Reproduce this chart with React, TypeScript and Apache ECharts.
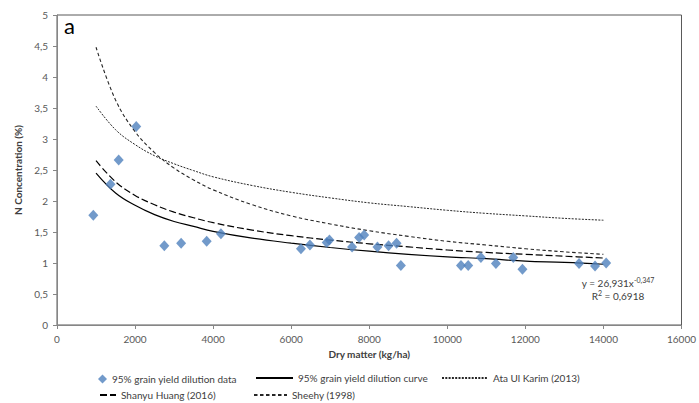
import React, { useEffect, useRef } from "react";
import * as echarts from "echarts";

const pointX = [930, 1370, 1580, 2030, 2750, 3180, 3835, 4200, 6250, 6480, 6910, 6980, 7560, 7740, 7870, 8210, 8495, 8700, 8810, 10350, 10535, 10860, 11245, 11690, 11925, 13375, 13785, 14070];
const pointY = [1.77, 2.27, 2.66, 3.2, 1.28, 1.32, 1.35, 1.47, 1.23, 1.29, 1.33, 1.37, 1.26, 1.41, 1.45, 1.26, 1.28, 1.32, 0.96, 0.96, 0.96, 1.09, 0.99, 1.09, 0.9, 0.99, 0.95, 1.0];

const curveX = [1000, 1500, 2000, 2500, 3000, 3500, 4000, 5000, 6000, 7000, 8000, 9000, 10000, 11000, 12000, 13000, 14000];
const fitCurve = [2.45, 2.13, 1.93, 1.78, 1.67, 1.59, 1.51, 1.4, 1.32, 1.25, 1.19, 1.14, 1.1, 1.07, 1.03, 1.01, 0.98];
const ataUlKarim = [3.53, 3.15, 2.91, 2.73, 2.6, 2.49, 2.39, 2.25, 2.14, 2.05, 1.97, 1.91, 1.85, 1.8, 1.76, 1.72, 1.69];
const shanyuHuang = [2.65, 2.31, 2.09, 1.94, 1.82, 1.73, 1.65, 1.53, 1.44, 1.37, 1.31, 1.26, 1.21, 1.17, 1.14, 1.11, 1.08];
const sheehy = [4.48, 3.63, 3.12, 2.78, 2.53, 2.34, 2.18, 1.94, 1.76, 1.63, 1.52, 1.43, 1.35, 1.29, 1.23, 1.18, 1.14];

const seriesNames = [
  "95% grain yield dilution data",
  "95% grain yield dilution curve",
  "Ata Ul Karim (2013)",
  "Shanyu Huang (2016)",
  "Sheehy (1998)",
];

const FONT = "Lato, 'Open Sans', sans-serif";

function pairs(xs: number[], ys: number[]) {
  return xs.map((x, i) => [x, ys[i]]);
}

export default function App() {
  const ref = useRef<HTMLDivElement>(null);
  useEffect(() => {
    document.body.style.margin = "0";
    const chart = echarts.init(ref.current!, null, { renderer: "svg" });
    const lineSeries = (name: string, ys: number[], type: any, width: number, color: string) => ({
      name,
      type: "line",
      data: pairs(curveX, ys),
      smooth: 0.4,
      symbol: "none",
      showSymbol: false,
      lineStyle: { color, width, type },
      itemStyle: { color },
      z: 2,
    });
    const legendBase = {
      selectedMode: false,
      itemHeight: 12,
      textStyle: { fontFamily: FONT, fontSize: 10, color: "#404040" },
      padding: 0,
    };
    const lineLegend = {
      ...legendBase,
      itemStyle: { opacity: 0 },
    };
    chart.setOption({
      animation: false,
      textStyle: { fontFamily: FONT },
      grid: { left: 57, right: 17, top: 15, bottom: 78, show: true, borderColor: "#595959", borderWidth: 1 },
      xAxis: {
        type: "value",
        min: 0,
        max: 16000,
        interval: 2000,
        name: "Dry matter (kg/ha)",
        nameLocation: "middle",
        nameGap: 21,
        nameTextStyle: { fontFamily: FONT, fontSize: 10, fontWeight: "bold", color: "#404040" },
        axisLine: { show: true, lineStyle: { color: "#868686" } },
        axisTick: { show: true, length: 4, lineStyle: { color: "#868686" } },
        axisLabel: {
          fontFamily: FONT,
          fontSize: 10,
          color: "#595959",
          margin: 9,
          formatter: (v: number) => String(v),
        },
        splitLine: { show: false },
      },
      yAxis: {
        type: "value",
        min: 0,
        max: 5,
        interval: 0.5,
        name: "N Concentration (%)",
        nameLocation: "middle",
        nameGap: 30,
        nameTextStyle: { fontFamily: FONT, fontSize: 10, fontWeight: "bold", color: "#404040" },
        axisLine: { show: true, lineStyle: { color: "#868686" } },
        axisTick: { show: true, length: 4, lineStyle: { color: "#868686" } },
        axisLabel: {
          fontFamily: FONT,
          fontSize: 10,
          color: "#595959",
          margin: 9,
          formatter: (v: number) => String(v).replace(".", ","),
        },
        splitLine: { show: false },
      },
      legend: [
        { ...legendBase, data: [seriesNames[0]], left: 98, top: 374, itemWidth: 9, itemHeight: 9 },
        { ...lineLegend, data: [seriesNames[1]], left: 255, top: 373, itemWidth: 37 },
        { ...lineLegend, data: [seriesNames[2]], left: 441, top: 373, itemWidth: 46 },
        { ...lineLegend, data: [seriesNames[3]], left: 99, top: 390, itemWidth: 16 },
        { ...lineLegend, data: [seriesNames[4]], left: 253, top: 390, itemWidth: 33 },
      ],
      graphic: [
        {
          type: "text",
          left: 64,
          top: 14,
          style: { text: "a", fontFamily: FONT, fontSize: 22, fill: "#000" },
        },
        {
          type: "text",
          x: 618,
          y: 283,
          style: {
            text: "{b|y = 26,931x}{s|-0,347}",
            align: "center",
            verticalAlign: "middle",
            rich: {
              b: { fontFamily: FONT, fontSize: 10, lineHeight: 13, fill: "#404040" },
              s: { fontFamily: FONT, fontSize: 7, lineHeight: 8, verticalAlign: "top", fill: "#404040" },
            },
          },
        },
        {
          type: "text",
          x: 618,
          y: 296,
          style: {
            text: "{b|R}{s|2}{b| = 0,6918}",
            align: "center",
            verticalAlign: "middle",
            rich: {
              b: { fontFamily: FONT, fontSize: 10, lineHeight: 13, fill: "#404040" },
              s: { fontFamily: FONT, fontSize: 7, lineHeight: 8, verticalAlign: "top", fill: "#404040" },
            },
          },
        },
      ],
      series: [
        {
          name: seriesNames[0],
          type: "scatter",
          symbol: "diamond",
          symbolSize: [10, 11],
          data: pairs(pointX, pointY),
          itemStyle: { color: "#4F81BD" },
          z: 3,
        },
        lineSeries(seriesNames[1], fitCurve, "solid", 1.2, "#000"),
        lineSeries(seriesNames[2], ataUlKarim, [2, 1.3], 1, "#262626"),
        lineSeries(seriesNames[3], shanyuHuang, [7, 3], 1.2, "#000"),
        lineSeries(seriesNames[4], sheehy, [3.5, 2.5], 1.1, "#262626"),
      ],
    });
    return () => chart.dispose();
  }, []);
  return <div ref={ref} style={{ position: "absolute", left: 0, top: 0, width: 699, height: 403 }} />;
}
